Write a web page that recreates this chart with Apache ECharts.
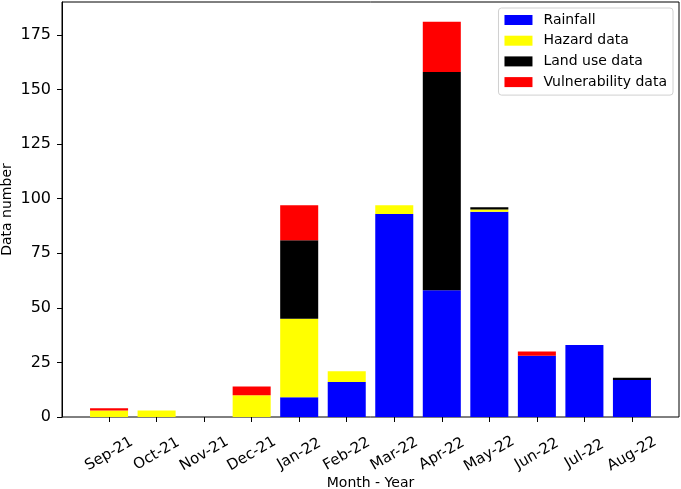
<!DOCTYPE html>
<html>
<head>
<meta charset="utf-8">
<script src="https://cdn.jsdelivr.net/npm/echarts@6/dist/echarts.min.js"></script>
<style>html,body{margin:0;padding:0;background:#fff}#chart{width:681px;height:489px}</style>
</head>
<body>
<div id="chart"></div>
<script>
const categories = ['Sep-21','Oct-21','Nov-21','Dec-21','Jan-22','Feb-22','Mar-22','Apr-22','May-22','Jun-22','Jul-22','Aug-22'];
const rainfall      = [0, 0, 0, 0, 9, 16, 93, 58, 94, 28, 33, 17];
const hazard        = [3, 3, 0, 10, 36, 5, 4, 0, 1, 0, 0, 0];
const landUse       = [0, 0, 0, 0, 36, 0, 0, 100, 1, 0, 0, 1];
const vulnerability = [1, 0, 0, 4, 16, 0, 0, 23, 0, 2, 0, 0];
const yTicks = [0, 25, 50, 75, 100, 125, 150, 175];

const FONT = 'DejaVu Sans';
const YMAX = 190.05;
// frame (outer) plot area
const L = 62, R = 2, T = 2, B = 72;
const W = 681 - L - R;
const unit = W / 12.98;            // px per category step (matplotlib-like margins)
const innerL = L + 0.49 * unit;    // band area so that category centers match
const innerR = R + 0.49 * unit;

function mk(name, arr, color) {
  return {
    name, type: 'bar', stack: 'total', barWidth: '80%',
    xAxisIndex: 1, yAxisIndex: 1,
    itemStyle: { color }, emphasis: { disabled: true },
    data: arr
  };
}
const chart = echarts.init(document.getElementById('chart'), null, { renderer: 'canvas' });
chart.setOption({
  animation: false,
  textStyle: { fontFamily: FONT },
  grid: [
    { left: L, right: R, top: T, bottom: B, outerBoundsMode: 'none', containLabel: false, show: true, borderColor: '#000', borderWidth: 1, backgroundColor: 'transparent' },
    { left: innerL, right: innerR, top: T, bottom: B, outerBoundsMode: 'none', containLabel: false }
  ],
  legend: {
    orient: 'vertical', right: 8, top: 8,
    itemWidth: 28, itemHeight: 10, itemGap: 6.7,
    icon: 'rect',
    padding: [5, 6, 6, 6],
    borderColor: '#d0d0d0', borderWidth: 1, borderRadius: 3, backgroundColor: '#fff',
    textStyle: { fontFamily: FONT, fontSize: 14, color: '#000', lineHeight: 14, padding: [0, 0, 0, 6] },
    data: ['Rainfall', 'Hazard data', 'Land use data', 'Vulnerability data']
  },
  xAxis: [
    { type: 'value', gridIndex: 0, min: 0, max: 1, show: false },
    {
      type: 'category', gridIndex: 1, data: categories, boundaryGap: true,
      name: 'Month - Year', nameLocation: 'middle', nameGap: 66, nameMoveOverlap: false,
      nameTextStyle: { fontFamily: FONT, fontSize: 14, color: '#000', verticalAlign: 'middle' },
      axisLine: { show: false },
      axisTick: { show: true, alignWithLabel: true, length: 5, lineStyle: { color: '#000' } },
      axisLabel: {
        interval: 0, rotate: 30, align: 'center', verticalAlign: 'middle', margin: 37,
        fontFamily: FONT, fontSize: 15, color: '#000'
      },
      splitLine: { show: false }
    }
  ],
  yAxis: [
    {
      type: 'value', gridIndex: 0, min: 0, max: YMAX,
      name: 'Data number', nameLocation: 'middle', nameGap: 55, nameRotate: 90, nameMoveOverlap: false,
      nameTextStyle: { fontFamily: FONT, fontSize: 14, color: '#000', verticalAlign: 'middle' },
      axisLine: { show: true, onZero: false, lineStyle: { color: '#000', width: 1 } },
      axisTick: { show: true, length: 5, lineStyle: { color: '#000' }, customValues: yTicks },
      axisLabel: { customValues: yTicks, margin: 11, fontFamily: FONT, fontSize: 16, color: '#000' },
      splitLine: { show: false }
    },
    { type: 'value', gridIndex: 1, min: 0, max: YMAX, show: false }
  ],
  series: [
    mk('Rainfall', rainfall, '#0000ff'),
    mk('Hazard data', hazard, '#ffff00'),
    mk('Land use data', landUse, '#000000'),
    mk('Vulnerability data', vulnerability, '#ff0000')
  ]
});
</script>
</body>
</html>
